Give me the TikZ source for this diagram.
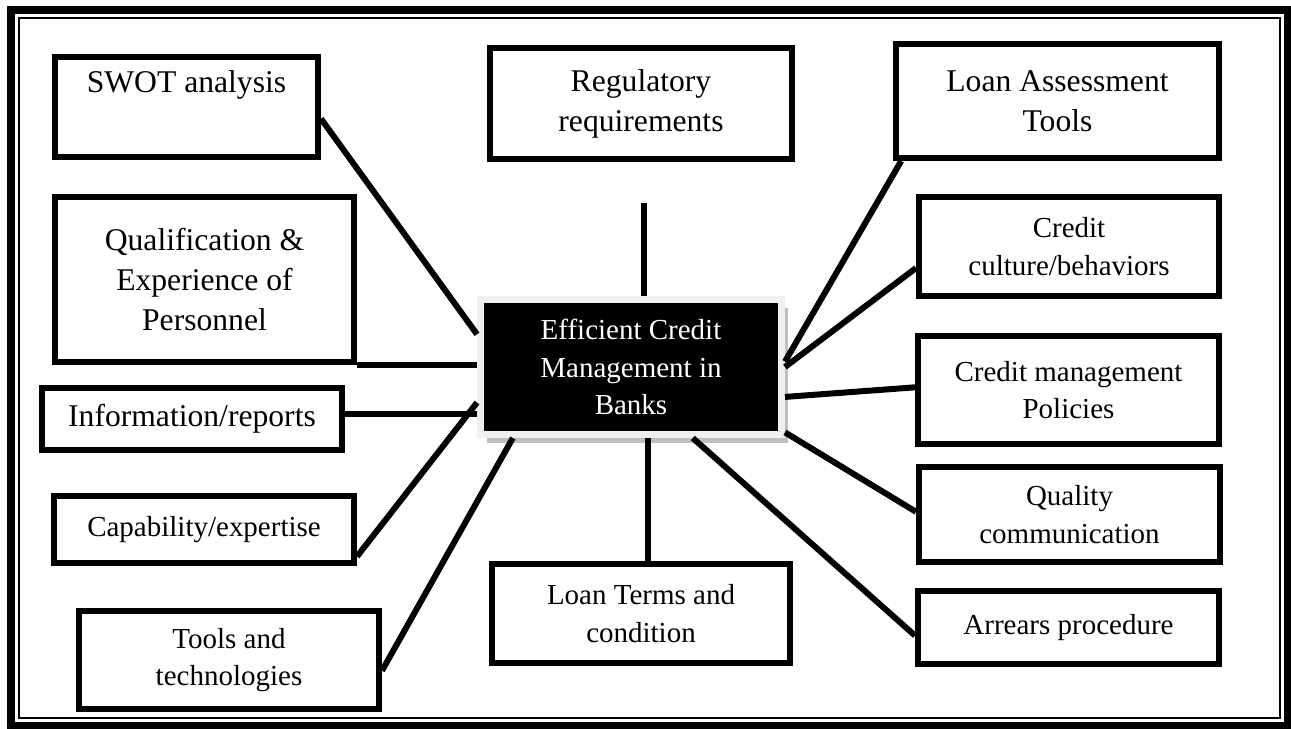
\documentclass[tikz,border=0pt]{standalone}
\usepackage{fontspec}
\setmainfont{Liberation Serif}
\usetikzlibrary{shadows}
\tikzset{
	item/.style={draw, line width=0.12cm, align=center, inner sep=0pt, font=\fontsize{16.5}{21.4}\selectfont},
	bigitem/.style={item, font=\fontsize{18}{22.7}\selectfont},
	boxsize/.style 2 args={minimum width=#1*0.02cm, minimum height=#2*0.02cm},
	core/.style={fill=black, draw=black!6, line width=0.14cm, text=white, align=center, inner sep=0pt,
		font=\fontsize{16.5}{21.4}\selectfont,
		drop shadow={shadow xshift=0.13cm, shadow yshift=-0.17cm, fill=black!25, opacity=1}},
	link/.style={line width=0.12cm},
}

\begin{document}
\begin{tikzpicture}[x=0.02cm, y=-0.02cm]
		\useasboundingbox (0,0) rectangle (1291,729);
		\draw[line width=0.16cm] (11,10) rectangle (1287.5,725.5);
		\draw[line width=0.045cm] (19,18) rectangle (1280,718);

		\node[core, boxsize={301}{135}] at (631,367)(core){Efficient Credit\\Management in\\Banks};

		\node[bigitem, boxsize={263}{100}] at (186.5,107)(swot){SWOT analysis\\ \strut};
		\node[bigitem, boxsize={299}{165}] at (204.5,279.5)(qualif){Qualification \&\\Experience of\\Personnel};
		\node[bigitem, boxsize={300}{62}] at (192,419)(info){Information/reports};
		\node[item, boxsize={300}{67}] at (204,529.5)(capab){Capability/expertise};
		\node[item, boxsize={300}{98}] at (229,660)(tools){Tools and\\technologies};

		\node[bigitem, boxsize={302}{111}] at (641,103.5)(reg){Regulatory\\requirements};
		\node[item, boxsize={298}{99}] at (641,613.5)(terms){Loan Terms and\\condition};

		\node[bigitem, boxsize={323}{114}] at (1057.5,101)(assess){Loan Assessment\\Tools};
		\node[item, boxsize={300}{99}] at (1069,246.5)(cult){Credit\\culture/behaviors};
		\node[item, boxsize={301}{108}] at (1068.5,390)(policy){Credit management\\Policies};
		\node[item, boxsize={301}{95}] at (1069.5,514.5)(quality){Quality\\communication};
		\node[item, boxsize={301}{73}] at (1068.5,627.5)(arrears){Arrears procedure};

		\coordinate (regtop) at (644,203);

		\path[link] (swot.-5) edge (core.168)
			(qualif.south east) edge (qualif.south east -| core.west)
			(info.2) edge (info.2 -| core.west)
			(capab.-10) edge (core.193)
			(tools.-4) edge (core.211);
		\path[link] (regtop) edge (regtop |- core.north)
			(terms.82) edge (terms.82 |- core.south);
		\path[link] (assess.201.5) edge (core.2)
			(cult.188) edge (core.0)
			(policy.179) edge (core.-11)
			(quality.179) edge (core.-23)
			(arrears.183.5) edge (core.-49);
	\end{tikzpicture}
\end{document}
